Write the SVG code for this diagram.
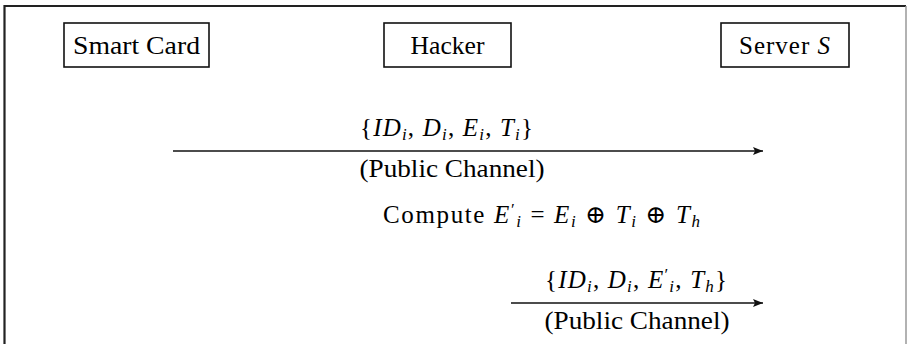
<svg xmlns="http://www.w3.org/2000/svg" width="907" height="344" viewBox="0 0 907 344">
<defs>
<style>
.t{font-family:"Liberation Serif","DejaVu Serif",serif;font-size:25px;fill:#000;}
.m{font-style:italic;}
.s{font-size:17px;}
.box{fill:#fff;stroke:#111;stroke-width:1.6;}
.ln{stroke:#111;stroke-width:1.6;fill:none;}
</style>
<marker id="ah" viewBox="0 0 10 8" refX="10" refY="4" markerWidth="10" markerHeight="8" markerUnits="userSpaceOnUse" orient="auto">
<path d="M0,0 L10,4 L0,8 L2,4 Z" fill="#111"/>
</marker>
</defs>
<rect x="0" y="0" width="907" height="344" fill="#fff"/>
<path d="M4.5,400 V6 H906" stroke="#222" stroke-width="2.2" fill="none"/>
<line x1="906" y1="6" x2="906" y2="344" stroke="#999" stroke-width="1.5"/>

<g id="smartcard">
<rect class="box" x="64" y="23" width="145" height="44"/>
<text class="t" x="136.5" y="53.5" text-anchor="middle" textLength="127" lengthAdjust="spacingAndGlyphs">Smart Card</text>
</g>
<g id="hacker">
<rect class="box" x="384" y="23" width="127" height="44"/>
<text class="t" x="447.5" y="53.5" text-anchor="middle" textLength="74" lengthAdjust="spacingAndGlyphs">Hacker</text>
</g>
<g id="server">
<rect class="box" x="721" y="23" width="128" height="44"/>
<text class="t" x="784.5" y="53.5" text-anchor="middle" textLength="91" lengthAdjust="spacing">Server <tspan class="m">S</tspan></text>
</g>

<g id="connectors">
<line class="ln" x1="173" y1="151" x2="763" y2="151" marker-end="url(#ah)"/>
<line class="ln" x1="511" y1="303" x2="763" y2="303" marker-end="url(#ah)"/>
</g>

<g id="labels">
<text class="t" x="360" y="136" textLength="173" lengthAdjust="spacing">{<tspan class="m">ID</tspan><tspan class="m s" dy="4">i</tspan><tspan dy="-4">, </tspan><tspan class="m">D</tspan><tspan class="m s" dy="4">i</tspan><tspan dy="-4">, </tspan><tspan class="m">E</tspan><tspan class="m s" dy="4">i</tspan><tspan dy="-4">, </tspan><tspan class="m">T</tspan><tspan class="m s" dy="4">i</tspan><tspan dy="-4">}</tspan></text>
<text class="t" x="452" y="177" text-anchor="middle" textLength="185" lengthAdjust="spacingAndGlyphs">(Public Channel)</text>
<text class="t" x="383" y="223" textLength="317" lengthAdjust="spacing">Compute <tspan class="m">E</tspan><tspan class="s" dy="-8">′</tspan><tspan class="m s" dy="12">i</tspan><tspan dy="-4"> = </tspan><tspan class="m">E</tspan><tspan class="m s" dy="4">i</tspan><tspan dy="-4"> ⊕ </tspan><tspan class="m">T</tspan><tspan class="m s" dy="4">i</tspan><tspan dy="-4"> ⊕ </tspan><tspan class="m">T</tspan><tspan class="m s" dy="4">h</tspan></text>
<text class="t" x="545" y="288" textLength="182" lengthAdjust="spacing">{<tspan class="m">ID</tspan><tspan class="m s" dy="4">i</tspan><tspan dy="-4">, </tspan><tspan class="m">D</tspan><tspan class="m s" dy="4">i</tspan><tspan dy="-4">, </tspan><tspan class="m">E</tspan><tspan class="s" dy="-8">′</tspan><tspan class="m s" dy="12">i</tspan><tspan dy="-4">, </tspan><tspan class="m">T</tspan><tspan class="m s" dy="4">h</tspan><tspan dy="-4">}</tspan></text>
<text class="t" x="637" y="329" text-anchor="middle" textLength="185" lengthAdjust="spacingAndGlyphs">(Public Channel)</text>
</g>
</svg>
